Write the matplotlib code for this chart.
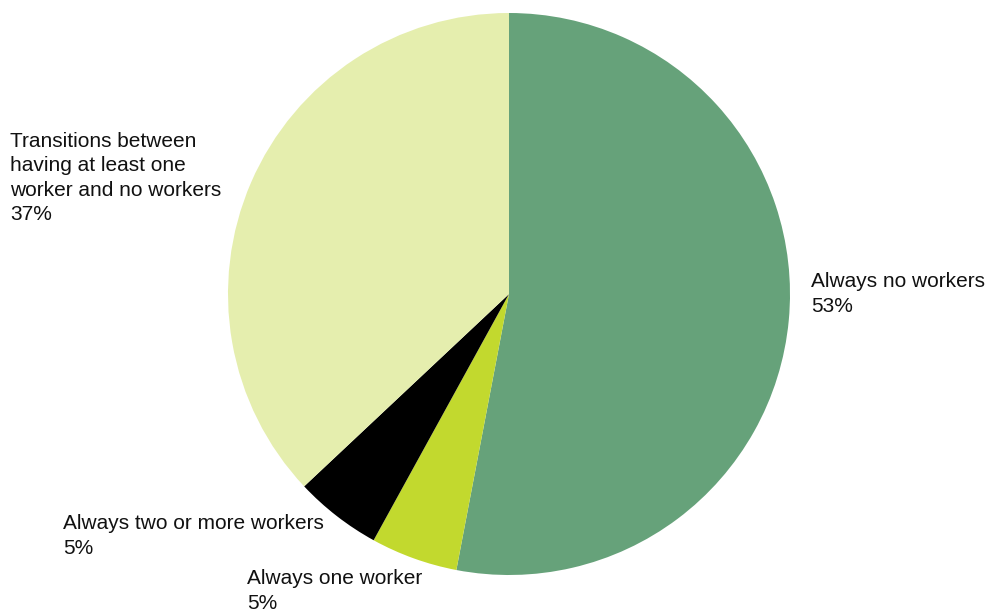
import matplotlib.pyplot as plt

# household worker status shares
labels = ["Always no workers", "Always one worker", "Always two or more workers",
          "Transitions between\nhaving at least one\nworker and no workers"]
shares = [53, 5, 5, 37]
colors = ["#66a27a", "#c2d92e", "#000000", "#e5eeae"]

# label anchor (left x, centre y) in pixel coords of the 987x613 canvas
label_pos = [(811, 294), (247, 591), (63, 536), (10, 178)]

plt.rcParams['font.family'] = ['Liberation Sans', 'DejaVu Sans']

fig = plt.figure(figsize=(9.87, 6.13), dpi=100)
ax = fig.add_axes([0, 0, 1, 1])

ax.pie(shares, colors=colors, startangle=90, counterclock=False,
       center=(509, 613 - 294), radius=281,
       wedgeprops=dict(linewidth=0), frame=True)
ax.set_xlim(0, 987)
ax.set_ylim(0, 613)
ax.set_aspect('equal')
ax.axis('off')

for lab, val, (x, y) in zip(labels, shares, label_pos):
    ax.text(x, 613 - y, f"{lab}\n{val}%", fontsize=15, ha='left', va='center',
            linespacing=1.35, color='#111111')

fig.savefig("out.png", dpi=100)
